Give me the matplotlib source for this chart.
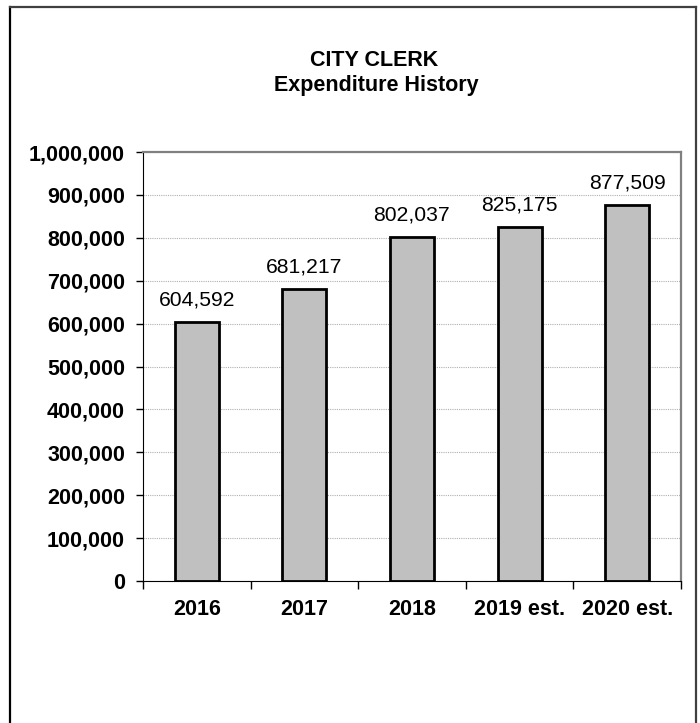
import matplotlib.pyplot as plt
from matplotlib.lines import Line2D
from matplotlib.ticker import FuncFormatter

# data
years = ["2016", "2017", "2018", "2019 est.", "2020 est."]
spending = [604592, 681217, 802037, 825175, 877509]

plt.rcParams['font.family'] = ['Liberation Sans', 'DejaVu Sans']

W, H = 700, 723
fig = plt.figure(figsize=(W / 100, H / 100), dpi=100)

# outer frame (bottom edge runs off the picture)
fig.add_artist(Line2D([9.5 / W, 9.5 / W], [0, 1 - 6.5 / H], color="black", lw=1.6))
fig.add_artist(Line2D([9.5 / W, 696 / W], [1 - 6.5 / H, 1 - 6.5 / H], color="#404040", lw=1.6))
fig.add_artist(Line2D([696 / W, 696 / W], [0, 1 - 6.5 / H], color="#404040", lw=1.6))

# plot area
left, right, top, bottom = 143, 681, 152, 581
ax = fig.add_axes([left / W, 1 - bottom / H, (right - left) / W, (bottom - top) / H])

x = list(range(len(years)))
ax.bar(x, spending, width=0.41, color="#C0C0C0", edgecolor="black", linewidth=2, zorder=3)

for xi, v in zip(x, spending):
    ax.annotate(f"{v:,}", (xi, v), xytext=(0, 9), textcoords="offset points",
                ha="center", va="bottom", fontsize=15.2)

ax.set_xlim(-0.5, len(years) - 0.5)
ax.set_ylim(0, 1000000)
ax.set_yticks(range(0, 1000001, 100000))
ax.yaxis.set_major_formatter(FuncFormatter(lambda v, p: f"{int(v):,}"))
ax.tick_params(axis="y", direction="out", length=5, width=1, labelsize=15.5, pad=8)
for lab in ax.get_yticklabels():
    lab.set_fontweight("bold")

ax.set_xticks(x)
ax.set_xticklabels(years, fontsize=15.5, fontweight="bold")
ax.tick_params(axis="x", which="major", length=0, pad=13)
ax.set_xticks([i - 0.5 for i in range(len(years) + 1)], minor=True)
ax.tick_params(axis="x", which="minor", direction="out", length=6, width=1)

ax.grid(axis="y", linestyle=(0, (1, 1)), color="#B0B0B0", linewidth=0.8, zorder=0)
ax.spines["top"].set_color("#808080")
ax.spines["right"].set_color("#808080")
ax.spines["top"].set_linewidth(1.6)
ax.spines["right"].set_linewidth(1.6)
ax.spines["left"].set_color("black")
ax.spines["bottom"].set_color("black")

fig.text(374 / W, 1 - 61 / H, "CITY CLERK", ha="center", va="center", fontsize=15.5, fontweight="bold")
fig.text(376 / W, 1 - 85 / H, "Expenditure History", ha="center", va="center", fontsize=15.5, fontweight="bold")

fig.savefig("out.png", dpi=100)
